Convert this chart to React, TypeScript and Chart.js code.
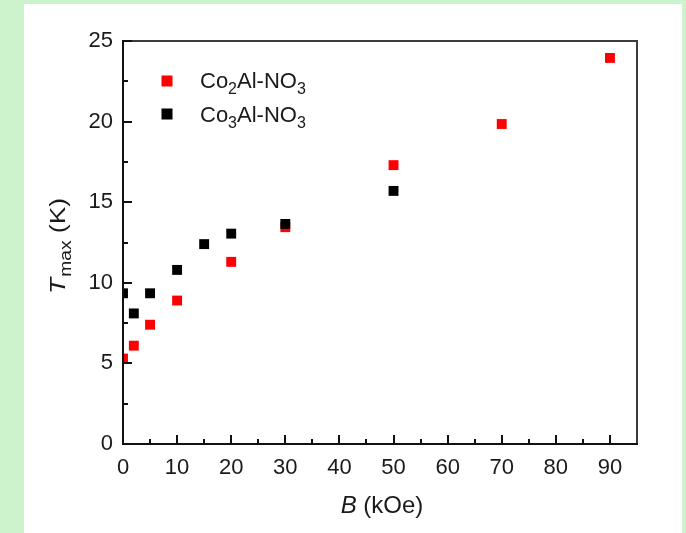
import React, { useEffect, useRef } from "react";
import { Chart, registerables } from "chart.js";

Chart.register(...registerables);

const bCo2: number[] = [0, 2, 5, 10, 20, 30, 50, 70, 90];
const tCo2: number[] = [5.3, 6.1, 7.4, 8.9, 11.3, 13.45, 17.3, 19.85, 23.95];
const bCo3: number[] = [0, 2, 5, 10, 15, 20, 30, 50];
const tCo3: number[] = [9.35, 8.1, 9.35, 10.8, 12.4, 13.05, 13.65, 15.7];

const xMajor: number[] = [0, 10, 20, 30, 40, 50, 60, 70, 80, 90];
const xMinor: number[] = [5, 15, 25, 35, 45, 55, 65, 75, 85];
const yMajor: number[] = [0, 5, 10, 15, 20, 25];
const yMinor: number[] = [2.5, 7.5, 12.5, 17.5, 22.5];

const FONT = "Arial, 'Liberation Sans', Helvetica, sans-serif";

const decorPlugin = {
  id: "decor",
  afterDraw(chart: any) {
    const ctx = chart.ctx as CanvasRenderingContext2D;
    const { left, right, top, bottom } = chart.chartArea;
    const xs = chart.scales.x;
    const ys = chart.scales.y;
    ctx.save();
    // frame
    ctx.strokeStyle = "#3c3c3c";
    ctx.lineWidth = 2;
    ctx.beginPath();
    ctx.moveTo(left, top);
    ctx.lineTo(right, top);
    ctx.lineTo(right, bottom);
    ctx.stroke();
    ctx.strokeStyle = "#111";
    ctx.beginPath();
    ctx.moveTo(left, top - 1);
    ctx.lineTo(left, bottom);
    ctx.lineTo(right + 1, bottom);
    ctx.stroke();
    // inside ticks
    ctx.lineWidth = 2;
    ctx.beginPath();
    xMajor.forEach((v) => {
      const px = Math.round(xs.getPixelForValue(v));
      ctx.moveTo(px, bottom);
      ctx.lineTo(px, bottom - 9);
    });
    xMinor.forEach((v) => {
      const px = Math.round(xs.getPixelForValue(v));
      ctx.moveTo(px, bottom);
      ctx.lineTo(px, bottom - 5);
    });
    yMajor.forEach((v) => {
      const py = Math.round(ys.getPixelForValue(v));
      ctx.moveTo(left, py);
      ctx.lineTo(left + 9, py);
    });
    yMinor.forEach((v) => {
      const py = Math.round(ys.getPixelForValue(v));
      ctx.moveTo(left, py);
      ctx.lineTo(left + 5, py);
    });
    ctx.stroke();

    ctx.fillStyle = "#1a1a1a";
    ctx.textBaseline = "alphabetic";
    ctx.textAlign = "left";

    // legend
    const drawFormula = (x: number, y: number, sub: string) => {
      const big = `22px ${FONT}`;
      const small = `16px ${FONT}`;
      let cx = x;
      ctx.font = big;
      ctx.fillText("Co", cx, y);
      cx += ctx.measureText("Co").width;
      ctx.font = small;
      ctx.fillText(sub, cx, y + 6);
      cx += ctx.measureText(sub).width;
      ctx.font = big;
      ctx.fillText("Al-NO", cx, y);
      cx += ctx.measureText("Al-NO").width;
      ctx.font = small;
      ctx.fillText("3", cx, y + 6);
    };
    ctx.fillStyle = "#ff0000";
    ctx.fillRect(161.5, 75.5, 11, 11);
    ctx.fillStyle = "#000000";
    ctx.fillRect(161.5, 108.5, 11, 11);
    ctx.fillStyle = "#1a1a1a";
    drawFormula(200, 88, "2");
    drawFormula(200, 122, "3");

    // x title
    const titleFont = `24px ${FONT}`;
    const titleItalic = `italic 24px ${FONT}`;
    ctx.font = titleItalic;
    const wB = ctx.measureText("B").width;
    ctx.font = titleFont;
    const wRest = ctx.measureText(" (kOe)").width;
    const sx = 382 - (wB + wRest) / 2;
    ctx.font = titleItalic;
    ctx.fillText("B", sx, 513);
    ctx.font = titleFont;
    ctx.fillText(" (kOe)", sx + wB, 513);

    // y title
    const yFont = `22px ${FONT}`;
    const yItalic = `italic 22px ${FONT}`;
    const ySub = `16px ${FONT}`;
    ctx.translate(65, 246);
    ctx.rotate(-Math.PI / 2);
    ctx.scale(1.2, 1);
    ctx.font = yItalic;
    const wT = ctx.measureText("T").width;
    ctx.font = ySub;
    const wMax = ctx.measureText("max").width;
    ctx.font = yFont;
    const wK = ctx.measureText(" (K)").width;
    let ty = -(wT + wMax + wK + 1) / 2;
    ctx.font = yItalic;
    ctx.fillText("T", ty, 0);
    ty += wT + 1;
    ctx.font = ySub;
    ctx.fillText("max", ty, 6);
    ty += wMax;
    ctx.font = yFont;
    ctx.fillText(" (K)", ty, 0);
    ctx.restore();
  },
};

export default function App() {
  const ref = useRef<HTMLCanvasElement | null>(null);
  useEffect(() => {
    if (!ref.current) return;
    const chart = new Chart(ref.current, {
      type: "scatter",
      data: {
        datasets: [
          {
            label: "Co2Al-NO3",
            data: bCo2.map((b, i) => ({ x: b, y: tCo2[i] })),
            backgroundColor: "#ff0000",
            borderColor: "#ff0000",
            borderWidth: 0,
            pointStyle: "rect",
            pointRadius: 7,
            clip: 0,
            order: 2,
          },
          {
            label: "Co3Al-NO3",
            data: bCo3.map((b, i) => ({ x: b, y: tCo3[i] })),
            backgroundColor: "#000000",
            borderColor: "#000000",
            borderWidth: 0,
            pointStyle: "rect",
            pointRadius: 7,
            clip: 0,
            order: 1,
          },
        ],
      },
      options: {
        animation: false,
        responsive: false,
        devicePixelRatio: 1,
        layout: { padding: { top: 41, right: 49, left: 0, bottom: 0 } },
        plugins: { legend: { display: false }, tooltip: { enabled: false } },
        scales: {
          x: {
            type: "linear",
            min: 0,
            max: 95,
            grid: { display: false, drawTicks: false },
            border: { display: false },
            ticks: {
              stepSize: 10,
              includeBounds: false,
              padding: 11,
              color: "#1a1a1a",
              font: { family: FONT, size: 22 },
              maxRotation: 0,
            },
            afterFit: (s: any) => {
              s.height = 89;
            },
          },
          y: {
            type: "linear",
            min: 0,
            max: 25,
            grid: { display: false, drawTicks: false },
            border: { display: false },
            ticks: {
              stepSize: 5,
              padding: 10,
              color: "#1a1a1a",
              font: { family: FONT, size: 22 },
            },
            afterFit: (s: any) => {
              s.width = 123;
            },
          },
        },
      },
      plugins: [decorPlugin],
    } as any);
    return () => chart.destroy();
  }, []);

  return (
    <div style={{ position: "absolute", left: 0, top: 0, width: 686, height: 533, background: "#cdf3cd", overflow: "hidden" }}>
      <div style={{ position: "absolute", left: 24, top: 4, width: 658, height: 529, background: "#ffffff" }} />
      <canvas ref={ref} width={686} height={533} style={{ position: "absolute", left: 0, top: 0, width: 686, height: 533 }} />
    </div>
  );
}
